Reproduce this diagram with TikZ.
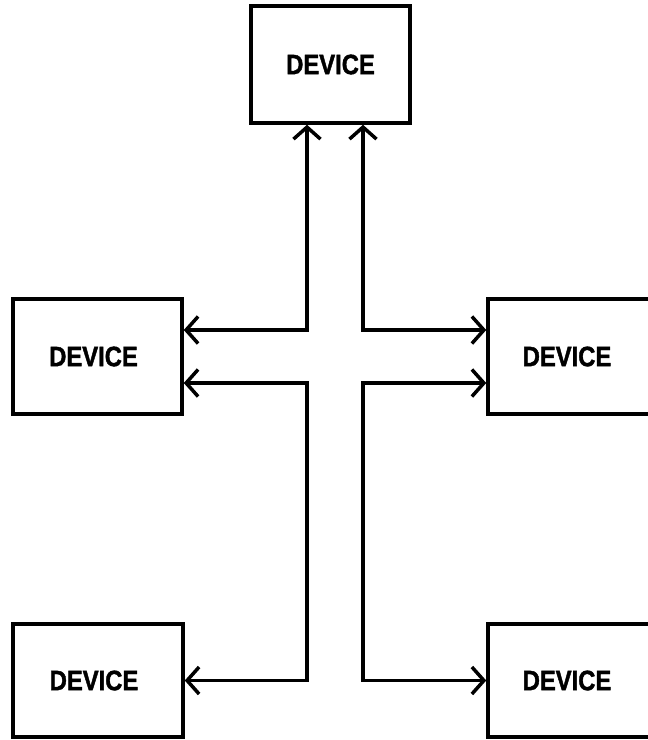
\documentclass[tikz,border=0pt]{standalone}
\usepackage{fontspec}
\setmainfont{Liberation Sans}
\newfontfamily\devfont[FakeStretch=0.85,FakeBold=1.5]{Liberation Sans Bold}
\usetikzlibrary{arrows.meta}
\begin{document}
\begin{tikzpicture}[x=1pt,y=-1pt,
  box/.style={draw, line width=3.5pt, rectangle, inner sep=0pt,
    font=\devfont\fontsize{28}{28}\selectfont},
  conn/.style={line width=3.5pt, <->,
    >={Straight Barb[length=12pt,width=27pt]}}]
\useasboundingbox (0,0) rectangle (648,740);
\node[box, minimum width=159pt, minimum height=117pt] (top) at (330.5,64.5) {DEVICE};
\node[box, minimum width=169pt, minimum height=115pt] (lm) at (97.5,356.5) {\hspace*{-8pt}DEVICE};
\node[box, minimum width=169pt, minimum height=115pt] (rm) at (572.5,356.5) {\hspace*{-11pt}DEVICE};
\node[box, minimum width=170pt, minimum height=113pt] (bl) at (98,680.5) {\hspace*{-8pt}DEVICE};
\node[box, minimum width=169pt, minimum height=113pt] (br) at (572.5,680.5) {\hspace*{-11pt}DEVICE};
\coordinate (L) at ([xshift=-23.5pt]top.south);
\coordinate (R) at ([xshift=32.5pt]top.south);
\draw[conn] (L) |- ([yshift=26.5pt]lm.east);
\draw[conn] (R) |- ([yshift=26.5pt]rm.west);
\draw[conn] ([yshift=-26.5pt]lm.east) -| (L |- bl.east) -- (bl.east);
\draw[conn] ([yshift=-26.5pt]rm.west) -| (R |- br.west) -- (br.west);
\end{tikzpicture}
\end{document}
